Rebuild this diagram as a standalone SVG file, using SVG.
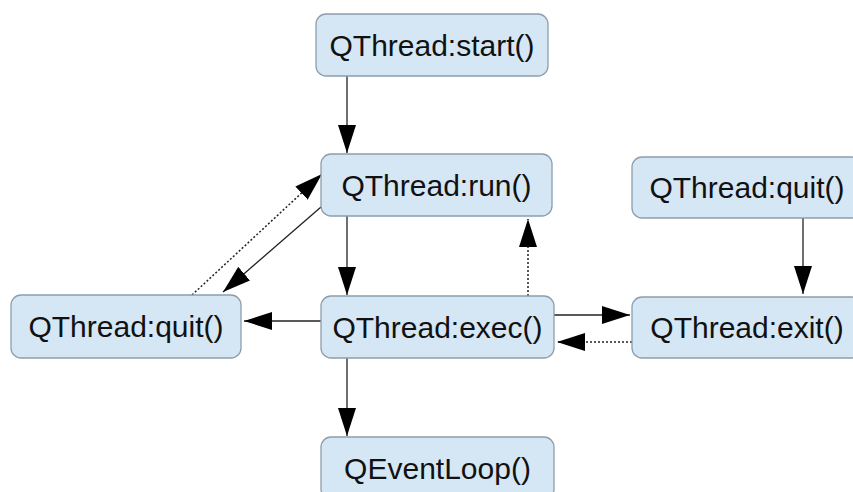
<svg xmlns="http://www.w3.org/2000/svg" width="853" height="492" viewBox="0 0 853 492">
<defs>
<style>
.box{fill:#d5e7f5;stroke:#8d9dab;stroke-width:1.3}
.lbl{font-family:"Liberation Sans",Arial,sans-serif;font-size:30px;fill:#111;text-anchor:middle}
.c{fill:none;stroke:#222;stroke-width:1.3;marker-end:url(#ah)}
.d{stroke-dasharray:2,2;stroke-width:1.5}
</style>
<marker id="ah" markerUnits="userSpaceOnUse" markerWidth="28" markerHeight="18" refX="28" refY="9" orient="auto" viewBox="0 0 28 18">
<path d="M0,0 L28,9 L0,18 z" fill="#000"/>
</marker>
</defs>
<rect width="853" height="492" fill="#fff"/>
<g id="connectors">
<path class="c" d="M347,76 L347,153"/>
<path class="c" d="M347,216 L347,295"/>
<path class="c" d="M347,358 L347,436"/>
<path class="c" d="M321,321 L244,321"/>
<path class="c" d="M321,207 L223,292"/>
<path class="c d" d="M192,295 L322,174"/>
<path class="c d" d="M528,296 L528,219"/>
<path class="c" d="M554,315 L630,315"/>
<path class="c d" d="M632,342 L557,342"/>
<path class="c" d="M803,218 L803,294"/>
</g>
<g id="start"><rect class="box" x="316" y="14" width="232" height="62" rx="10"/><text class="lbl" x="432" y="55.5">QThread:start()</text></g>
<g id="run"><rect class="box" x="321" y="154" width="231" height="62" rx="10"/><text class="lbl" x="436.5" y="195.5">QThread:run()</text></g>
<g id="quitRight"><rect class="box" x="632" y="157" width="230" height="61" rx="10"/><text class="lbl" x="747" y="198">QThread:quit()</text></g>
<g id="quitLeft"><rect class="box" x="11" y="295" width="230" height="63" rx="10"/><text class="lbl" x="126" y="337">QThread:quit()</text></g>
<g id="exec"><rect class="box" x="321" y="296" width="233" height="62" rx="10"/><text class="lbl" x="437.5" y="337.5">QThread:exec()</text></g>
<g id="exit"><rect class="box" x="632" y="297" width="230" height="61" rx="10"/><text class="lbl" x="747" y="338">QThread:exit()</text></g>
<g id="eventLoop"><rect class="box" x="321" y="437" width="233" height="62" rx="10"/><text class="lbl" x="437.5" y="478.5">QEventLoop()</text></g>
</svg>
